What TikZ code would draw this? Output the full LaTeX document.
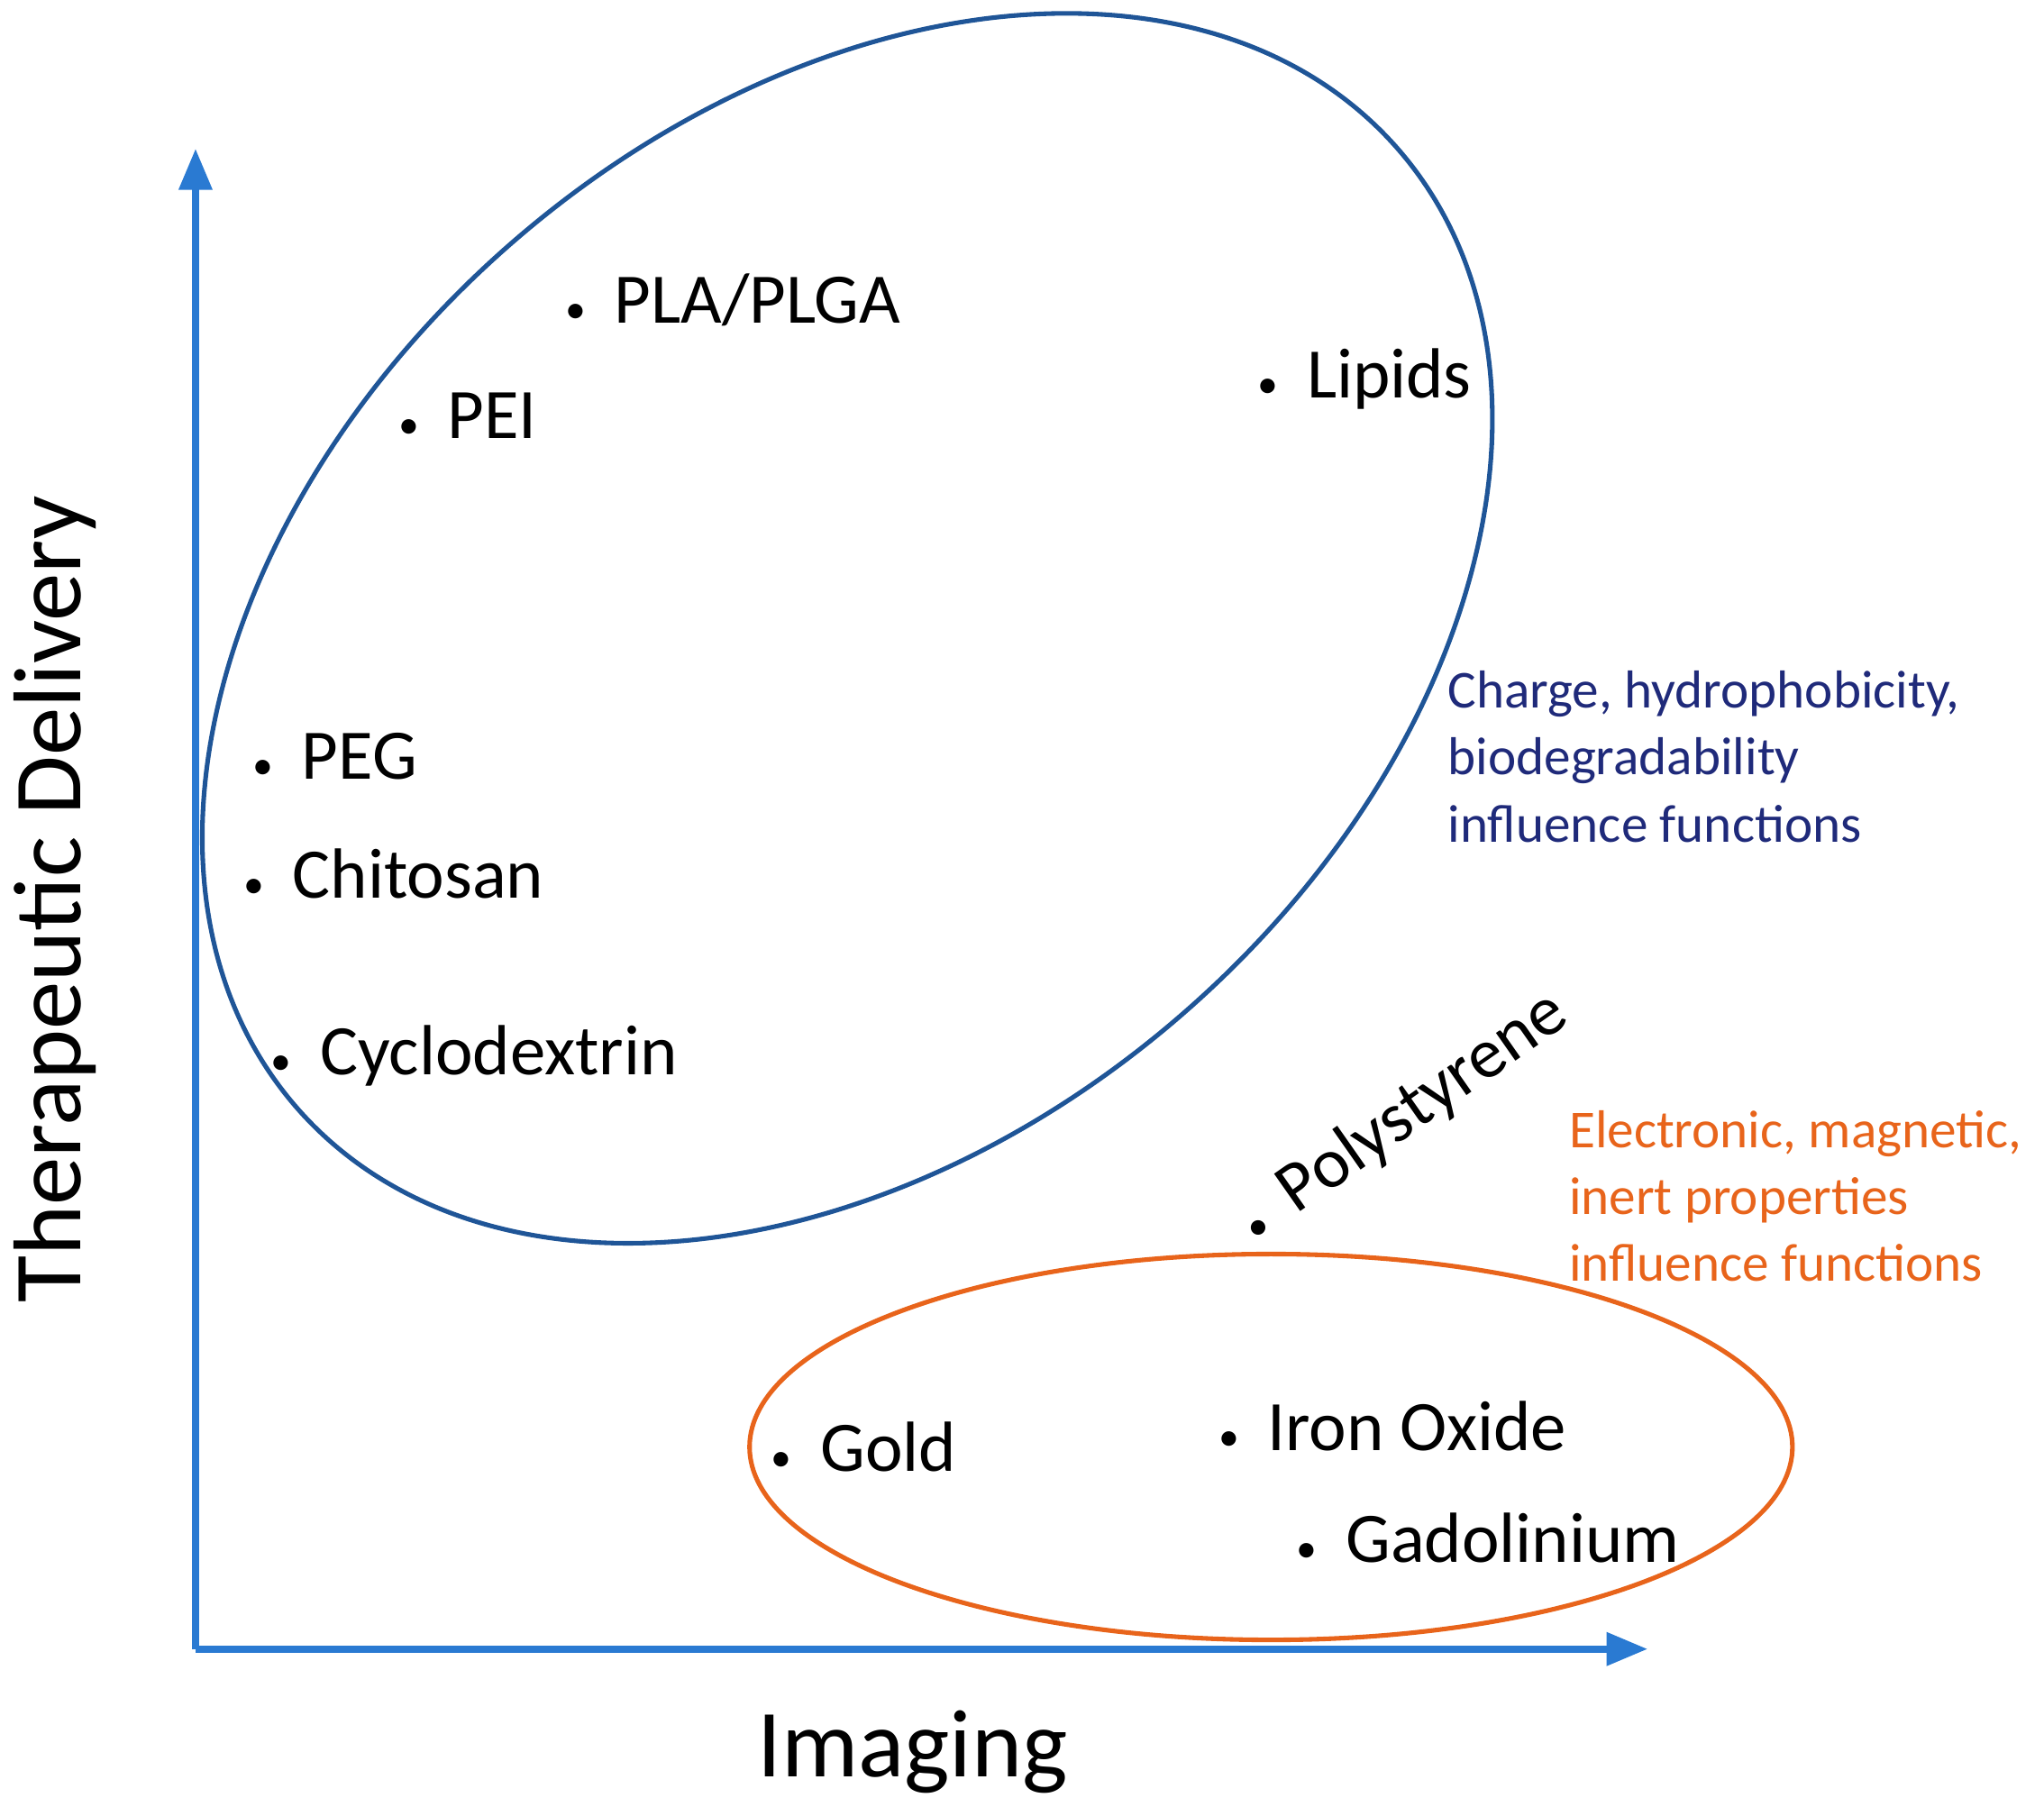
\documentclass[tikz,border=0pt]{standalone}
\usepackage{fontspec}
\setmainfont{Carlito}
\usetikzlibrary{arrows.meta}
\definecolor{axisblue}{HTML}{2A7AD2}
\definecolor{ringblue}{HTML}{1F5597}
\definecolor{ringorange}{HTML}{E8641B}
\definecolor{noteblue}{HTML}{1F2A7A}
\tikzset{item/.style={anchor=west, inner sep=0pt, font=\fontsize{15.5}{18}\selectfont}}
\tikzset{note/.style={anchor=north west, align=left, inner sep=0pt, font=\fontsize{11.65}{14.6}\selectfont}}
\tikzset{axis/.style={line width=1.6pt, draw=axisblue, -{Triangle[length=9pt,width=7pt]}}}
\newcommand{\mat}[1]{{\small\textbullet}\hspace{0.22cm}#1}

\begin{document}
\begin{tikzpicture}
	\useasboundingbox (0,0) rectangle (15.68,13.86);
	% axes
	\coordinate (O) at (1.50,1.21);
	\coordinate (X) at (12.64,1.21);
	\coordinate (Y) at (1.50,12.72);
	\draw[axis] (O) -- (X);
	\draw[axis] (O) -- (Y);
	\node[font=\fontsize{21}{24}\selectfont] (imaging) at (7.00,0.42) {Imaging};
	\node[font=\fontsize{21}{24}\selectfont, rotate=90] (therapy) at (0.42,6.96) {Therapeutic Delivery};
	% groups
	\draw[ringblue, line width=1pt] (6.50,9.04) ellipse [x radius=5.6, y radius=3.92, rotate=41];
	\draw[ringorange, line width=1pt] (9.75,2.76) ellipse [x radius=4.0, y radius=1.48];
	% materials
	\node[item] (plga) at (4.33,11.56) {\mat{PLA/PLGA}};
	\node[item] (pei) at (3.05,10.67) {\mat{PEI}};
	\node[item] (lipids) at (9.64,10.95) {\mat{Lipids}};
	\node[item] (peg) at (1.93,8.06) {\mat{PEG}};
	\node[item] (chitosan) at (1.86,7.16) {\mat{Chitosan}};
	\node[item] (cyclo) at (2.07,5.76) {\mat{Cyclodextrin}};
	\node[item, rotate=35] (poly) at (9.55,4.44) {\mat{Polystyrene}};
	\node[item] (gold) at (5.91,2.76) {\mat{Gold}};
	\node[item] (iron) at (9.34,2.92) {\mat{Iron Oxide}};
	\node[item] (gado) at (9.94,2.06) {\mat{Gadolinium}};
	% notes
	\node[note, text=noteblue] (polymer) at (11.10,8.72) {Charge, hydrophobicity,\\biodegradability\\influence functions};
	\node[note, text=ringorange] (inorganic) at (12.03,5.35) {Electronic, magnetic,\\inert properties\\influence functions};
\end{tikzpicture}
\end{document}
